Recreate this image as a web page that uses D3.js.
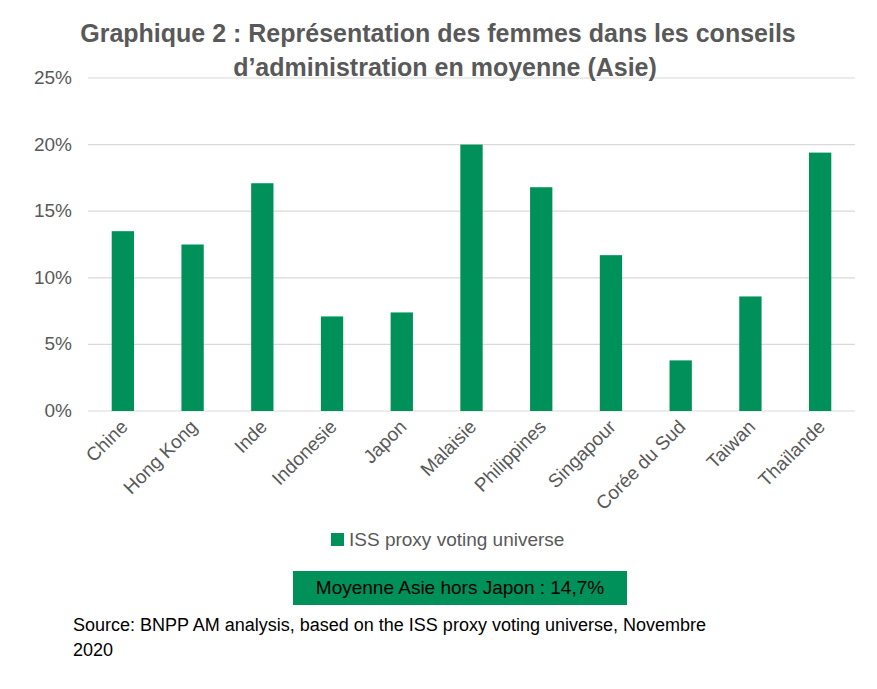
<!DOCTYPE html><html><head><meta charset="utf-8"><script src="https://cdn.jsdelivr.net/npm/d3@7"></script>
<style>body{margin:0;background:#fff}</style></head><body><svg id="c" width="877" height="689"></svg>
<script>
const categories=["Chine","Hong Kong","Inde","Indonesie","Japon","Malaisie","Philippines","Singapour","Corée du Sud","Taiwan","Thaïlande"];
const values=[0.135,0.125,0.171,0.071,0.074,0.200,0.168,0.117,0.038,0.086,0.194];
const ticks=[0,0.05,0.10,0.15,0.20,0.25];
const green="#00915A";
const svg=d3.select("#c");
const narrow="'Liberation Sans Narrow','Arial Narrow',sans-serif";
const x=d3.scaleBand().domain(categories).range([88,855]).paddingInner(0.68).paddingOuter(0.34);
const y=d3.scaleLinear().domain([0,0.25]).range([411,78]);
svg.selectAll(".g").data(ticks).enter().append("line").attr("x1",88).attr("x2",855)
 .attr("y1",d=>y(d)).attr("y2",d=>y(d)).attr("stroke","#d9d9d9").attr("stroke-width",1.2);
svg.selectAll(".yl").data(ticks).enter().append("text").attr("x",72).attr("y",d=>y(d)+6)
 .attr("text-anchor","end").attr("font-family",narrow).attr("font-size",19).attr("fill","#595959")
 .text(d=>d3.format(".0%")(d));
svg.selectAll(".b").data(values).enter().append("rect").attr("x",(d,i)=>x(categories[i]))
 .attr("width",x.bandwidth()).attr("y",d=>y(d)).attr("height",d=>y(0)-y(d)).attr("fill",green);
svg.selectAll(".xl").data(categories).enter().append("text")
 .attr("transform",d=>`translate(${x(d)+x.bandwidth()/2+6},${428}) rotate(-45)`)
 .attr("text-anchor","end").attr("font-family",narrow).attr("font-size",19).attr("fill","#595959").text(d=>d);
const t=svg.append("text").attr("text-anchor","middle").attr("font-family",narrow).attr("font-weight","bold")
 .attr("font-size",25).attr("fill","#595959");
t.append("tspan").attr("x",438).attr("y",42).text("Graphique 2 : Représentation des femmes dans les conseils");
t.append("tspan").attr("x",445).attr("y",76).text("d’administration en moyenne (Asie)");
svg.append("rect").attr("x",331).attr("y",533).attr("width",13).attr("height",13).attr("fill",green);
svg.append("text").attr("x",349).attr("y",546).attr("font-family",narrow).attr("font-size",19).attr("fill","#595959").text("ISS proxy voting universe");
svg.append("rect").attr("x",293).attr("y",571).attr("width",334).attr("height",34).attr("fill",green);
svg.append("text").attr("x",460).attr("y",594).attr("text-anchor","middle").attr("font-family",narrow).attr("font-size",19).attr("fill","#000").text("Moyenne  Asie hors Japon  : 14,7%");
const s=svg.append("text").attr("font-family","'Liberation Sans',Arial,sans-serif").attr("font-size",18).attr("fill","#000");
s.append("tspan").attr("x",73).attr("y",631).text("Source: BNPP AM analysis, based on the ISS proxy voting universe, Novembre");
s.append("tspan").attr("x",73).attr("y",656).text("2020");
</script></body></html>
